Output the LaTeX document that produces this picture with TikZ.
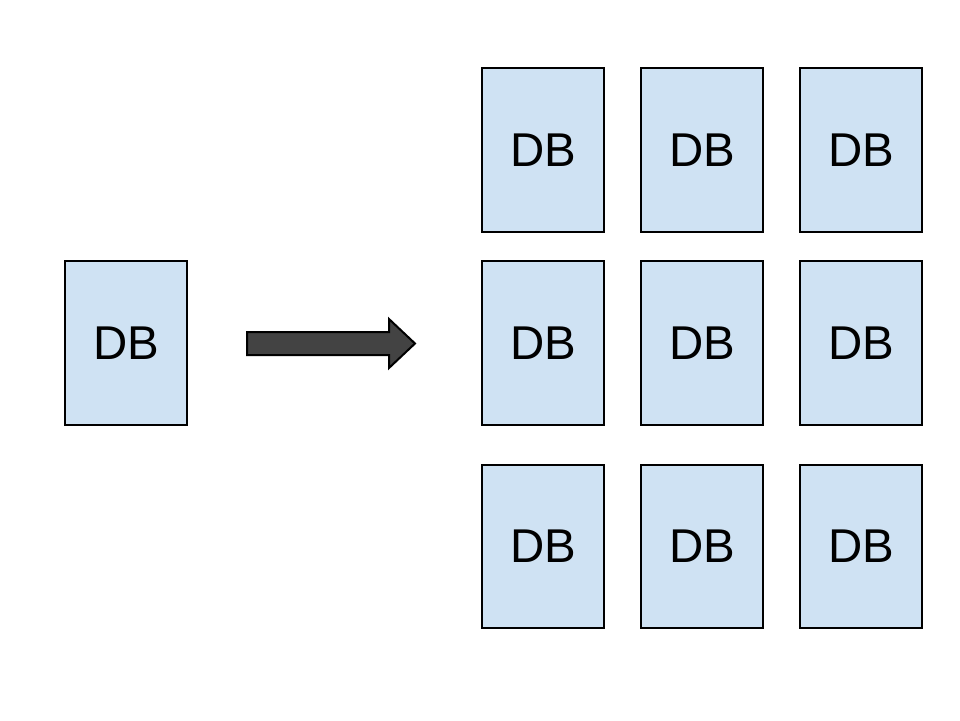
\documentclass[tikz,border=0pt]{standalone}
\usepackage{fontspec}
\setmainfont{Liberation Sans}
\usepackage{tikz}
\definecolor{dbblue}{HTML}{CFE2F3}
\definecolor{arrowgray}{HTML}{434343}
\tikzset{
	dbbox/.style={draw=black, fill=dbblue, line width=0.4mm, minimum width=2.44cm, minimum height=3.28cm, inner sep=0pt, font=\fontsize{27}{30}\selectfont}
}

\begin{document}
\begin{tikzpicture}[x=0.02cm, y=-0.02cm]
		%%%%% START %%%%%
		
		\useasboundingbox (0, 0) rectangle (960, 720);
		
		\node[dbbox] (db-src) at (126, 343) {DB};
		
		\foreach \col/\cx in {1/543, 2/702, 3/861}{
			\foreach \row/\cy in {1/150, 2/343, 3/546.5}{
				\node[dbbox] (db-\row-\col) at (\cx, \cy) {DB};
			}
		}
		
		\draw[line width=0.4mm, fill=arrowgray] (247, 332) -- (389, 332) -- (389, 319) -- (415, 343.5) -- (389, 368) -- (389, 355) -- (247, 355) -- cycle;
		
		%%%%% END %%%%%
	\end{tikzpicture}
\end{document}
